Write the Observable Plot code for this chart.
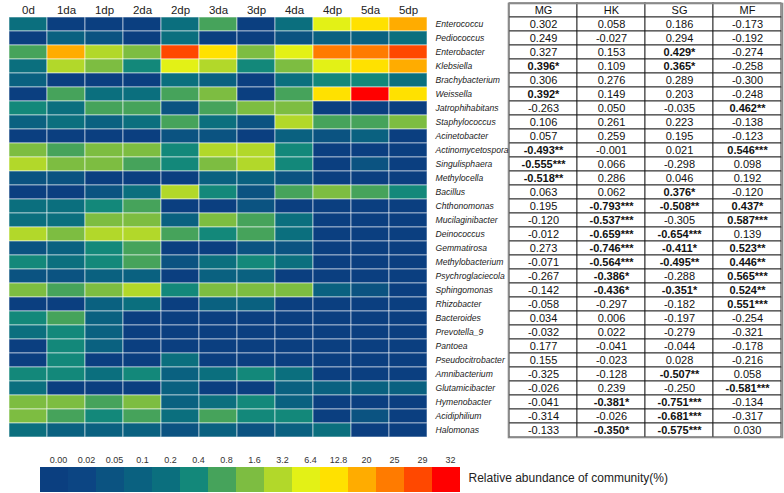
<!DOCTYPE html>
<html>
<head>
<meta charset="utf-8">
<script src="https://cdn.jsdelivr.net/npm/d3@7"></script>
<script src="https://cdn.jsdelivr.net/npm/@observablehq/plot@0.6"></script>
<style>
  html, body { margin: 0; padding: 0; background: #fff; }
  #wrap { position: relative; width: 784px; height: 493px; overflow: hidden; font-family: "Liberation Sans", Arial, sans-serif; }
  #wrap > div { position: absolute; }
  #heat { z-index: 2; }
  #heat g[aria-label="y-axis tick label"] text { font-style: italic; }
</style>
</head>
<body>
<div id="wrap">
  <div id="table" style="left:505px;top:0"></div>
  <div id="heat" style="left:0;top:0"></div>
  <div id="legend" style="left:0;top:440px"></div>
</div>
<script>
// ---- data ----
const days = ["0d","1da","1dp","2da","2dp","3da","3dp","4da","4dp","5da","5dp"];
const species = ["Enterococcu","Pediococcus","Enterobacter","Klebsiella","Brachybacterium","Weissella",
  "Jatrophihabitans","Staphylococcus","Acinetobacter","Actinomycetospora","Singulisphaera","Methylocella",
  "Bacillus","Chthonomonas","Mucilaginibacter","Deinococcus","Gemmatirosa","Methylobacterium",
  "Psychroglaciecola","Sphingomonas","Rhizobacter","Bacteroides","Prevotella_9","Pantoea",
  "Pseudocitrobacter","Amnibacterium","Glutamicibacter","Hymenobacter","Acidiphilium","Halomonas"];

// relative abundance (%) estimated from colour bins, one row per genus, columns = days
const abundance = [
  [0.3,0.01,0.01,0.01,0.3,1.2,0.01,0.3,9.6,16,22],
  [0.01,0.15,0.07,0.01,0.3,0.01,0.01,0.07,0.15,0.15,0.3],
  [1.2,22,4.8,2.4,30,16,2.4,9.6,27,27,30],
  [0.3,4.8,2.4,0.6,9.6,4.8,0.6,2.4,9.6,16,22],
  [0.15,0.01,0.01,0.01,0.3,0.15,0.01,0.3,0.6,0.6,0.3],
  [0.01,1.2,0.3,0.3,1.2,2.4,0.01,1.2,16,32,16],
  [0.6,0.3,1.2,1.2,0.07,1.2,2.4,2.4,0.01,0.01,0.01],
  [0.15,0.3,0.15,0.3,1.2,0.3,0.07,4.8,1.2,1.2,2.4],
  [0.01,0.01,0.01,0.01,0.07,0.07,0.01,0.15,0.07,0.15,0.01],
  [2.4,1.2,2.4,2.4,0.6,4.8,4.8,0.6,0.01,0.01,0.01],
  [4.8,2.4,2.4,1.2,0.6,2.4,4.8,0.6,0.01,0.07,0.01],
  [0.07,0.07,0.01,0.01,0.01,0.15,0.15,0.07,0.01,0.01,0.01],
  [0.01,0.01,0.07,0.3,4.8,0.6,0.07,1.2,2.4,1.2,0.6],
  [0.3,0.3,0.6,1.2,0.01,0.01,0.07,0.01,0.01,0.01,0.01],
  [0.3,0.3,2.4,2.4,0.15,2.4,1.2,0.3,0.01,0.01,0.01],
  [4.8,2.4,4.8,4.8,1.2,0.6,1.2,0.3,0.01,0.01,0.01],
  [0.07,0.15,0.6,1.2,0.01,0.01,0.07,0.07,0.01,0.01,0.01],
  [0.6,0.3,0.6,1.2,0.07,0.3,0.6,0.3,0.01,0.01,0.01],
  [0.07,0.07,0.15,0.15,0.01,0.15,0.15,0.01,0.01,0.01,0.01],
  [2.4,1.2,2.4,4.8,0.6,2.4,2.4,2.4,0.15,0.07,0.01],
  [0.01,0.01,0.15,0.3,0.01,0.15,0.15,0.01,0.01,0.01,0.01],
  [0.6,1.2,0.15,0.01,0.01,0.01,0.01,0.01,0.01,0.01,0.01],
  [0.3,0.6,0.15,0.01,0.01,0.01,0.01,0.01,0.01,0.01,0.01],
  [0.01,0.6,0.15,0.01,0.01,0.01,0.01,0.01,0.01,0.01,0.01],
  [0.01,0.6,0.01,0.01,0.3,0.01,0.01,0.01,0.01,0.01,0.01],
  [0.6,0.6,0.3,0.6,0.15,0.3,0.6,0.3,0.01,0.01,0.01],
  [0.3,0.01,0.01,0.01,0.15,0.01,0.01,0.15,0.15,0.15,0.15],
  [2.4,2.4,1.2,2.4,0.15,0.3,0.6,0.15,0.01,0.01,0.01],
  [2.4,1.2,0.6,1.2,0.3,1.2,0.6,0.6,0.01,0.07,0.01],
  [0.3,0.15,0.15,0.15,0.07,0.15,0.07,0.15,0.3,0.01,0.01]
];

const legendLabels = ["0.00","0.02","0.05","0.1","0.2","0.4","0.8","1.6","3.2","6.4","12.8","20","25","29","32"];
const palette = ["#0b3f80","#0c4583","#0b5381","#0a6180","#0b6f7e","#13887a","#46a35b","#7dbd41",
  "#b2d82a","#e3f116","#ffe100","#ffac00","#ff7b00","#ff4800","#ff0000"];

const tableCols = ["MG","HK","SG","MF"];
const MG = ["0.302","0.249","0.327","0.396*","0.306","0.392*","-0.263","0.106","0.057","-0.493**","-0.555***","-0.518**","0.063","0.195","-0.120","-0.012","0.273","-0.071","-0.267","-0.142","-0.058","0.034","-0.032","0.177","0.155","-0.325","-0.026","-0.041","-0.314","-0.133"];
const HK = ["0.058","-0.027","0.153","0.109","0.276","0.149","0.050","0.261","0.259","-0.001","0.066","0.286","0.062","-0.793***","-0.537***","-0.659***","-0.746***","-0.564***","-0.386*","-0.436*","-0.297","0.006","0.022","-0.041","-0.023","-0.128","0.239","-0.381*","-0.026","-0.350*"];
const SG = ["0.186","0.294","0.429*","0.365*","0.289","0.203","-0.035","0.223","0.195","0.021","-0.298","0.046","0.376*","-0.508**","-0.305","-0.654***","-0.411*","-0.495**","-0.288","-0.351*","-0.182","-0.197","-0.279","-0.044","0.028","-0.507**","-0.250","-0.751***","-0.681***","-0.575***"];
const MF = ["-0.173","-0.192","-0.274","-0.258","-0.300","-0.248","0.462**","-0.138","-0.123","0.546***","0.098","0.192","-0.120","0.437*","0.587***","0.139","0.523**","0.446**","0.565***","0.524**","0.551***","-0.254","-0.321","-0.178","-0.216","0.058","-0.581***","-0.134","-0.317","0.030"];
const legendTitle = "Relative abundance of community(%)";

// ---- derived tables ----
const cells = [];
species.forEach((s, i) => days.forEach((d, j) => cells.push({species: s, day: d, value: abundance[i][j]})));
const thresholds = legendLabels.slice(1).map(Number);

const font = "'Liberation Sans', Arial, sans-serif";

const heat = Plot.plot({
  width: 508, height: 440,
  marginLeft: 4, marginRight: 77, marginTop: 16, marginBottom: 3,
  style: {background: "transparent", overflow: "visible", fontFamily: font},
  x: {domain: days, padding: 0, label: null},
  y: {domain: species, padding: 0, label: null},
  color: {type: "threshold", domain: thresholds, range: palette},
  marks: [
    Plot.cell(cells, {x: "day", y: "species", fill: "value", stroke: "#ffffff", strokeOpacity: 0.55, strokeWidth: 1}),
    Plot.axisX({anchor: "top", tickSize: 0, tickPadding: 3, fontSize: 11.5, fill: "#222", label: null}),
    Plot.axisY({anchor: "right", tickSize: 0, tickPadding: 4, fontSize: 8.6, fill: "#222", label: null})
  ]
});
document.getElementById("heat").appendChild(heat);

const tableRows = ["header", ...species];
const colVals = {MG, HK, SG, MF};
const tcells = [];
tableCols.forEach(c => {
  tcells.push({row: "header", col: c, text: c, bold: false});
  species.forEach((s, i) => {
    const t = colVals[c][i];
    tcells.push({row: s, col: c, text: t, bold: t.includes("*")});
  });
});

const table = Plot.plot({
  width: 279, height: 441,
  marginLeft: 3, marginRight: 2, marginTop: 3, marginBottom: 4,
  style: {background: "transparent", overflow: "visible", fontFamily: font},
  x: {domain: tableCols, padding: 0, axis: null},
  y: {domain: tableRows, padding: 0, axis: null},
  marks: [
    Plot.cell(tcells, {x: "col", y: "row", fill: "white", stroke: "#222", strokeWidth: 0.9}),
    Plot.frame({stroke: "#8a8a8a", strokeWidth: 1.6}),
    Plot.text(tcells.filter(d => !d.bold), {x: "col", y: "row", text: "text", fontSize: 11, fill: "#111"}),
    Plot.text(tcells.filter(d => d.bold), {x: "col", y: "row", text: "text", fontSize: 11, fontWeight: "bold", fill: "#111"})
  ]
});
document.getElementById("table").appendChild(table);

const legend = Plot.plot({
  width: 784, height: 53,
  marginLeft: 40, marginRight: 324, marginTop: 27, marginBottom: 1,
  style: {background: "transparent", overflow: "visible", fontFamily: font},
  x: {domain: legendLabels, padding: 0, label: null},
  y: {axis: null},
  color: {type: "ordinal", domain: legendLabels, range: palette},
  marks: [
    Plot.cell(legendLabels, {x: d => d, fill: d => d}),
    Plot.axisX({anchor: "top", tickSize: 0, tickPadding: 5, fontSize: 9, dx: 4, fill: "#333", label: null}),
    Plot.text([legendTitle], {frameAnchor: "right", dx: 8, dy: -2, textAnchor: "start", fontSize: 12, fill: "#222"})
  ]
});
document.getElementById("legend").appendChild(legend);
</script>
</body>
</html>
